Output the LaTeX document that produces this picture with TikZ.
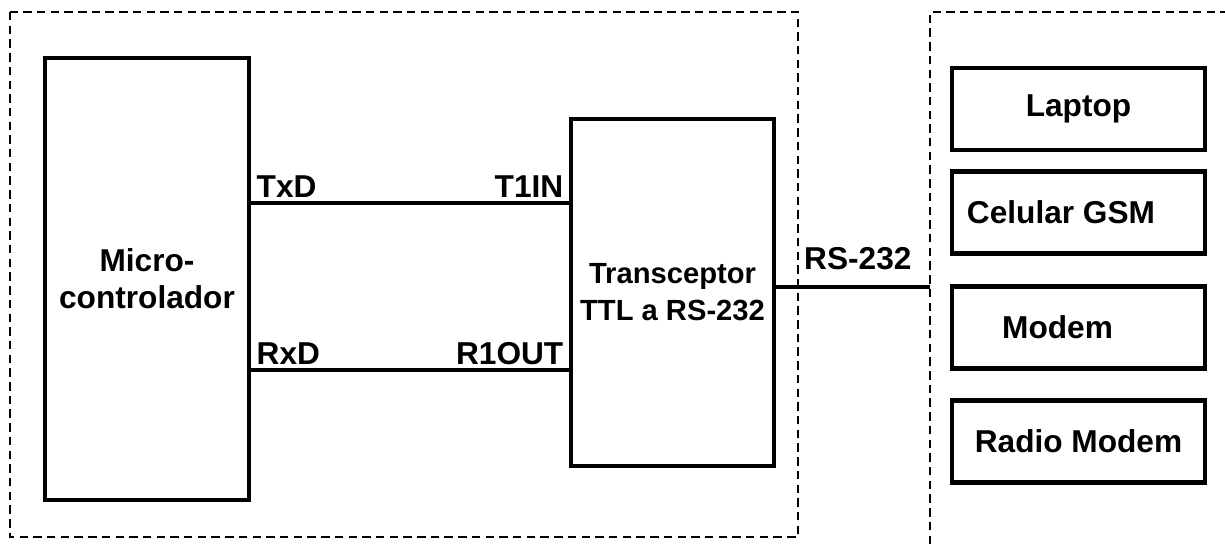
\documentclass[tikz,border=0pt]{standalone}
\usepackage{fontspec}
\setmainfont{Liberation Sans}

\tikzset{
  block/.style={draw, line width=1.4pt, inner sep=0pt, align=center},
  device/.style={block, minimum width=2.53cm, minimum height=0.82cm},
  wire/.style={line width=1pt},
  frame/.style={line width=0.45pt, dash pattern=on 2.4pt off 1.5pt},
  lbl/.style={inner sep=1pt}
}

\begin{document}
\begin{tikzpicture}[font=\fontsize{9}{10.5}\selectfont\bfseries]
\useasboundingbox (0,0) rectangle (12.25,5.44);

%frames:
\draw[frame] (0.10,5.32) rectangle (7.98,0.07);
\draw[frame] (9.30,0) -- (9.30,5.32) -- (12.25,5.32);

%blocks:
\node[block, minimum width=2.04cm, minimum height=4.42cm] (micro) at (1.47,2.65) {Micro-\\controlador};
\node[block, minimum width=2.03cm, minimum height=3.47cm,
  font=\fontsize{8.3}{10.5}\selectfont\bfseries] (trans) at (6.725,2.515) {Transceptor\\TTL a RS-232};

\node[device] (laptop) at (10.785,4.35) {Laptop};
\node[device] (gsm) at (10.785,3.315) {\hspace*{-0.35cm}Celular GSM};
\node[device] (modem) at (10.785,2.165) {\hspace*{-0.42cm}Modem};
\node[device] (radio) at (10.785,1.025) {Radio Modem};

%connections:
\coordinate (tx) at (0,3.41);
\coordinate (rx) at (0,1.74);
\coordinate (rs) at (9.30,2.57);

\draw[wire] (micro.east |- tx) node[lbl, anchor=south west] {TxD}
  -- (trans.west |- tx) node[lbl, anchor=south east] {T1IN};
\draw[wire] (micro.east |- rx) node[lbl, anchor=south west] {RxD}
  -- (trans.west |- rx) node[lbl, anchor=south east] {R1OUT};
\draw[wire] (trans.east |- rs) -- (rs);
\node[lbl, anchor=south west] at (8.0,2.70) {RS-232};

\end{tikzpicture}
\end{document}
